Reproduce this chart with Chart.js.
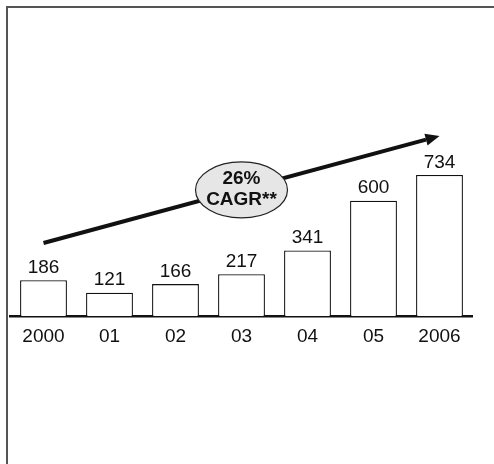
<!DOCTYPE html>
<html>
<head>
<meta charset="utf-8">
<script src="https://cdn.jsdelivr.net/npm/chart.js@4/dist/chart.umd.min.js"></script>
<style>
  html, body { margin: 0; padding: 0; background: #fff; }
  #wrap { width: 494px; height: 464px; }
</style>
</head>
<body>
<div id="wrap"><canvas id="growthChart" width="494" height="464"></canvas></div>
<script>
// ---------------- Data ------------------------------------------------------
const yearLabels = [ '2000', '01', '02', '03', '04', '05', '2006' ] ;
const values     = [ 186, 121, 166, 217, 341, 600, 734 ] ;

// trend arrow, in (category index, value) units
const arrowFrom  = [ 0, 380 ] ;
const arrowTo    = [ 6, 937 ] ;
const badgeAt    = [ 3, 656 ] ;
const badgeLines = [ '26%', 'CAGR**' ] ;

const FONT = '"Liberation Sans", Arial, sans-serif' ;

// ---------------- Plugins ---------------------------------------------------
const framePlugin = {
    id : 'frame',
    beforeDraw : function( chart ) {
        const ctx = chart.ctx ;
        ctx.save() ;
        ctx.fillStyle = '#fff' ;
        ctx.fillRect( 0, 0, chart.width, chart.height ) ;
        ctx.strokeStyle = '#555' ;
        ctx.lineWidth = 2 ;
        ctx.beginPath() ;
        ctx.moveTo( 7, chart.height ) ;
        ctx.lineTo( 7, 7 ) ;
        ctx.lineTo( chart.width, 7 ) ;
        ctx.stroke() ;
        ctx.restore() ;
    }
} ;

const valueLabelPlugin = {
    id : 'valueLabels',
    afterDatasetsDraw : function( chart ) {
        const ctx = chart.ctx ;
        const meta = chart.getDatasetMeta( 0 ) ;
        ctx.save() ;
        ctx.font = '19px ' + FONT ;
        ctx.fillStyle = '#111' ;
        ctx.textAlign = 'center' ;
        ctx.textBaseline = 'bottom' ;
        meta.data.forEach( function( bar, i ) {
            ctx.fillText( '' + values[i], bar.x, bar.y - 3 ) ;
        } ) ;
        ctx.restore() ;
    }
} ;

const trendPlugin = {
    id : 'trend',
    afterDatasetsDraw : function( chart ) {
        const ctx = chart.ctx ;
        const xs = chart.scales.x ;
        const ys = chart.scales.y ;

        const x1 = xs.getPixelForValue( arrowFrom[0] ), y1 = ys.getPixelForValue( arrowFrom[1] ) ;
        const x2 = xs.getPixelForValue( arrowTo[0] ),   y2 = ys.getPixelForValue( arrowTo[1] ) ;
        const ang = Math.atan2( y2 - y1, x2 - x1 ) ;
        const headLen = 14, headW = 6 ;

        ctx.save() ;
        ctx.strokeStyle = '#111' ;
        ctx.fillStyle = '#111' ;
        ctx.lineWidth = 4 ;
        ctx.beginPath() ;
        ctx.moveTo( x1, y1 ) ;
        ctx.lineTo( x2 - headLen * Math.cos( ang ), y2 - headLen * Math.sin( ang ) ) ;
        ctx.stroke() ;

        ctx.beginPath() ;
        ctx.moveTo( x2, y2 ) ;
        ctx.lineTo( x2 - headLen * Math.cos( ang ) + headW * Math.sin( ang ),
                    y2 - headLen * Math.sin( ang ) - headW * Math.cos( ang ) ) ;
        ctx.lineTo( x2 - headLen * Math.cos( ang ) - headW * Math.sin( ang ),
                    y2 - headLen * Math.sin( ang ) + headW * Math.cos( ang ) ) ;
        ctx.closePath() ;
        ctx.fill() ;

        // CAGR badge
        const cx = xs.getPixelForValue( badgeAt[0] ) ;
        const cy = ys.getPixelForValue( badgeAt[1] ) ;
        ctx.beginPath() ;
        ctx.ellipse( cx, cy, 46, 28, 0, 0, Math.PI * 2 ) ;
        ctx.fillStyle = '#e6e6e6' ;
        ctx.fill() ;
        ctx.lineWidth = 1.2 ;
        ctx.strokeStyle = '#222' ;
        ctx.stroke() ;

        ctx.fillStyle = '#111' ;
        ctx.font = 'bold 19px ' + FONT ;
        ctx.textAlign = 'center' ;
        ctx.textBaseline = 'middle' ;
        ctx.fillText( badgeLines[0], cx, cy - 11 ) ;
        ctx.fillText( badgeLines[1], cx, cy + 10 ) ;
        ctx.restore() ;
    }
} ;

// ---------------- Chart -----------------------------------------------------
const canvas = document.getElementById( 'growthChart' ) ;
new Chart( canvas, {
    type : 'bar',
    data : {
        labels : yearLabels,
        datasets : [ {
            data : values,
            backgroundColor : '#fff',
            borderColor : '#111',
            borderWidth : 1.3,
            barPercentage : 0.71,
            categoryPercentage : 1.0
        } ]
    },
    options : {
        responsive : false,
        animation : false,
        layout : { padding : { left : 10.5, right : 21.5, top : 47, bottom : 0 } },
        plugins : {
            legend : { display : false },
            tooltip : { enabled : false }
        },
        scales : {
            x : {
                grid : { display : false },
                border : { display : true, color : '#111', width : 2.5 },
                ticks : {
                    color : '#111',
                    padding : 1,
                    font : { family : FONT, size : 19 }
                },
                afterFit : function( scale ) { scale.height = 148 ; }
            },
            y : {
                display : false,
                min : 0,
                max : 1400
            }
        }
    },
    plugins : [ framePlugin, valueLabelPlugin, trendPlugin ]
} ) ;
</script>
</body>
</html>
